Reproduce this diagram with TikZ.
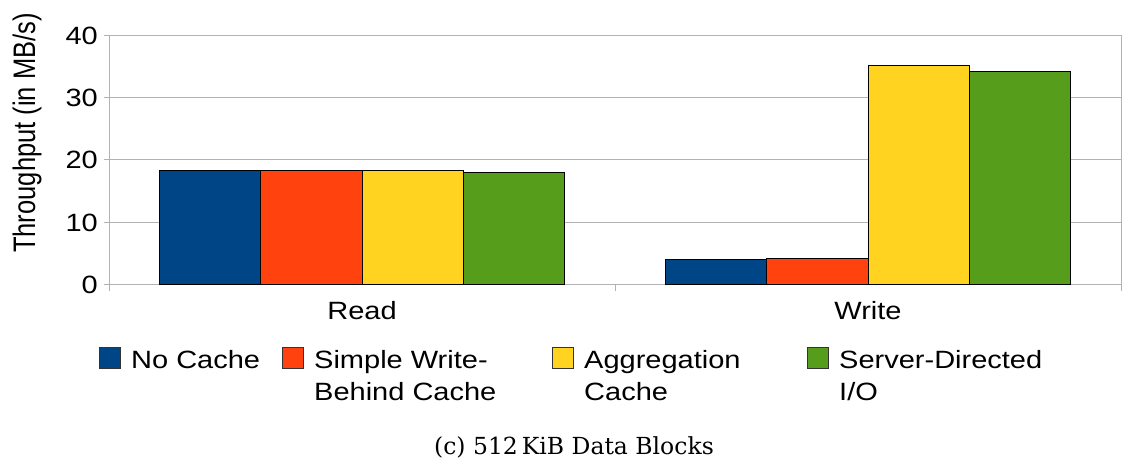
\documentclass[tikz,border=0pt]{standalone}
\usepackage{graphicx}
\usepackage{fontspec}
\setmainfont{Liberation Sans}
\newfontfamily\capfont{DejaVu Serif}
% chart lettering is drawn a little wider than the font's natural shape
\newcommand\wide[1]{\scalebox{1.16}[1]{#1}}
\begin{document}
\begin{tikzpicture}[x=1pt,y=-1pt,
  grid/.style={draw=black!30,line width=1pt},
  bar/.style={draw=black,line width=0.9pt},
  lbl/.style={font=\fontsize{25}{30}\selectfont,inner sep=0pt},
  swatch/.style={draw=black!80,line width=0.8pt},
  legtext/.style={font=\fontsize{25}{30}\selectfont,inner sep=0pt,anchor=base west}]
\definecolor{cBlue}{HTML}{004586}
\definecolor{cOrange}{HTML}{FF420E}
\definecolor{cYellow}{HTML}{FFD320}
\definecolor{cGreen}{HTML}{579D1C}
\useasboundingbox (0,0) rectangle (1122,472);
% value v maps to y = 284.4 - 6.235 v
\def\yv#1{284.4-6.235*#1}
% grid, axes and ticks
\foreach \v in {10,20,30,40} {
  \draw[grid] (109,{\yv{\v}}) -- (1121,{\yv{\v}});
}
\foreach \v in {0,10,20,30,40} {
  \draw[grid] (104,{\yv{\v}}) -- (109,{\yv{\v}});
  \node[lbl,anchor=east] at (98,{\yv{\v}+0.5}) {\wide{\v}};
}
\draw[grid] (109,35) -- (109,284.4) -- (1121,284.4) -- (1121,35);
\foreach \x in {109,615,1121} \draw[grid] (\x,284.4) -- (\x,291);
% bars
\def\bw{101.2}
\foreach \x/\v/\c in {159.6/18.2/cBlue, 260.8/18.25/cOrange, 362.0/18.25/cYellow, 463.2/17.9/cGreen,
                     665.6/3.95/cBlue, 766.8/4.2/cOrange, 868.0/35.1/cYellow, 969.2/34.2/cGreen} {
  \draw[bar,fill=\c] (\x,284.4) rectangle ({\x+\bw},{\yv{\v}});
}
% category labels
\node[lbl,anchor=base] (read) at (362,319) {\wide{Read}};
\node[lbl,anchor=base] (write) at (868,319) {\wide{Write}};
% axis title
\node[font=\fontsize{25.5}{30}\selectfont,inner sep=0pt,rotate=90] (ytitle) at (27,133) {\scalebox{1}[1.22]{Throughput (in MB/s)}};
% legend
\foreach \sx/\c/\ta/\tb in {99/cBlue/{No Cache}/{}, 282/cOrange/{Simple Write-}/{Behind Cache},
                       552/cYellow/{Aggregation}/{Cache}, 807/cGreen/{Server-Directed}/{I/O}} {
  \draw[swatch,fill=\c] (\sx,347) rectangle ({\sx+21},368);
  \node[legtext] at ({\sx+32},368) {\wide{\ta}};
  \node[legtext] at ({\sx+32},400) {\wide{\tb}};
}
% caption
\node[font=\capfont\fontsize{23.5}{28}\selectfont,inner sep=0pt,anchor=base] (cap) at (574,454) {(c) 512\,KiB Data Blocks};
\end{tikzpicture}
\end{document}
